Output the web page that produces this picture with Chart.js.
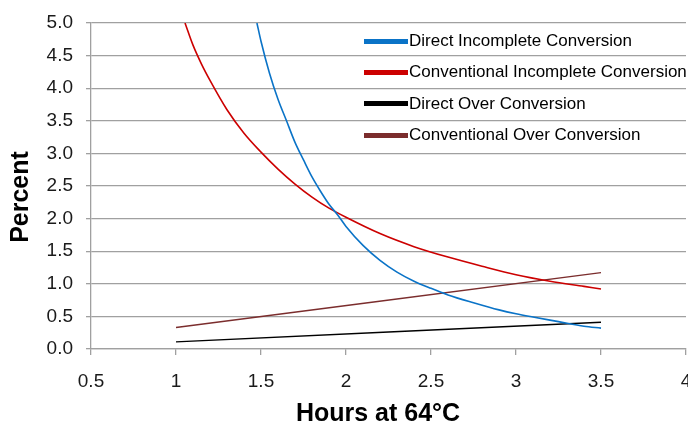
<!DOCTYPE html>
<html><head><meta charset="utf-8">
<script src="https://cdn.jsdelivr.net/npm/chart.js@4/dist/chart.umd.min.js"></script>
<style>
html,body{margin:0;padding:0;background:#fff;overflow:hidden}
#wrap{position:relative;width:688px;height:427px}
#legend{position:absolute;left:0;top:0;width:688px;height:427px;pointer-events:none;font-family:"Liberation Sans",Arial,sans-serif;font-size:17px;color:#000}
.item{position:absolute;left:364px;height:20px;display:flex;align-items:center;white-space:nowrap}
.swatch{width:44px;height:5px;margin-right:1px}
</style></head><body>
<div id="wrap"><canvas id="c" width="688" height="427"></canvas><div id="legend"></div></div>
<script>
// ---- data ----
const seriesNames = ['Direct Incomplete Conversion','Conventional Incomplete Conversion','Direct Over Conversion','Conventional Over Conversion'];
const seriesColors = ['#0a73c7','#cc0000','#000000','#7b2d2d'];

const directIncompleteX = [1.476,1.5,1.55,1.6,1.65,1.7,1.75,1.8,1.85,1.9,1.95,2.0,2.1,2.2,2.3,2.4,2.5,2.6,2.75,2.9,3.0,3.1,3.25,3.4,3.5];
const directIncompleteY = [5.0,4.72,4.23,3.83,3.5,3.17,2.9,2.64,2.42,2.22,2.06,1.88,1.59,1.36,1.18,1.04,0.93,0.83,0.71,0.6,0.54,0.49,0.42,0.35,0.32];

const conventionalIncompleteX = [1.053,1.1,1.15,1.2,1.3,1.4,1.5,1.6,1.7,1.8,1.9,2.0,2.2,2.4,2.6,2.8,3.0,3.2,3.4,3.5];
const conventionalIncompleteY = [5.0,4.66,4.37,4.12,3.67,3.31,3.02,2.76,2.53,2.33,2.16,2.02,1.77,1.57,1.41,1.27,1.14,1.04,0.96,0.92];

const directOverX = [1.0,3.5];
const directOverY = [0.11,0.41];

const conventionalOverX = [1.0,3.5];
const conventionalOverY = [0.33,1.17];

const xTickLabels = ['0.5','1','1.5','2','2.5','3','3.5','4'];
const yTickLabels = ['0.0','0.5','1.0','1.5','2.0','2.5','3.0','3.5','4.0','4.5','5.0'];

const xTitle = 'Hours at 64°C';
const yTitle = 'Percent';

// ---- build ----
const FONT = '"Liberation Sans", Arial, sans-serif';
const GRID = '#a0a0a0';
const toPts = (xs, ys) => xs.map((x, i) => ({x: x, y: ys[i]}));
const seriesData = [
  toPts(directIncompleteX, directIncompleteY),
  toPts(conventionalIncompleteX, conventionalIncompleteY),
  toPts(directOverX, directOverY),
  toPts(conventionalOverX, conventionalOverY)
];
const widths = [1.6, 1.6, 1.4, 1.3];

const axisTitles = {
  id: 'axisTitles',
  afterDraw(chart) {
    const ctx = chart.ctx;
    ctx.save();
    ctx.fillStyle = '#000';
    ctx.font = 'bold 25px ' + FONT;
    ctx.textAlign = 'center';
    ctx.textBaseline = 'middle';
    ctx.fillText(xTitle, 378, 414);
    ctx.translate(21, 197);
    ctx.rotate(-Math.PI / 2);
    ctx.fillText(yTitle, 0, 0);
    ctx.restore();
  }
};

new Chart(document.getElementById('c'), {
  type: 'scatter',
  data: {
    datasets: seriesData.map((d, i) => ({
      label: seriesNames[i],
      data: d,
      borderColor: seriesColors[i],
      backgroundColor: seriesColors[i],
      borderWidth: widths[i],
      showLine: true,
      pointRadius: 0,
      pointHoverRadius: 0,
      cubicInterpolationMode: 'monotone',
      fill: false
    }))
  },
  plugins: [axisTitles],
  options: {
    responsive: false,
    animation: false,
    devicePixelRatio: 1,
    layout: {padding: {top: 23, right: 2, left: 0, bottom: 0}},
    plugins: {legend: {display: false}, tooltip: {enabled: false}},
    scales: {
      x: {
        type: 'linear', min: 0.5, max: 4,
        ticks: {stepSize: 0.5, color: '#1a1a1a', font: {family: FONT, size: 19}, padding: 15,
                maxRotation: 0, autoSkip: false,
                callback: (v, i) => xTickLabels[i]},
        grid: {drawOnChartArea: false, drawTicks: true, tickLength: 6, color: GRID, lineWidth: 1.3},
        border: {color: GRID, width: 1.3},
        title: {display: false},
        afterFit: s => { s.height = 78; s.paddingRight = 0; }
      },
      y: {
        min: 0, max: 5,
        ticks: {stepSize: 0.5, color: '#1a1a1a', font: {family: FONT, size: 19}, padding: 13,
                autoSkip: false, callback: (v, i) => yTickLabels[i]},
        grid: {color: GRID, lineWidth: 1.3, tickLength: 5, drawTicks: true},
        border: {color: GRID, width: 1.3},
        title: {display: false},
        afterFit: s => { s.width = 91; s.paddingTop = 0; s.paddingBottom = 0; }
      }
    }
  }
});

// ---- legend (HTML, overlaid in the plot area) ----
const legendTops = [31, 62, 93.5, 125];
const leg = document.getElementById('legend');
seriesNames.forEach((n, i) => {
  const it = document.createElement('div');
  it.className = 'item';
  it.style.top = legendTops[i] + 'px';
  const sw = document.createElement('div');
  sw.className = 'swatch';
  sw.style.background = seriesColors[i];
  const tx = document.createElement('span');
  tx.textContent = n;
  it.appendChild(sw); it.appendChild(tx);
  leg.appendChild(it);
});
</script>
</body></html>
